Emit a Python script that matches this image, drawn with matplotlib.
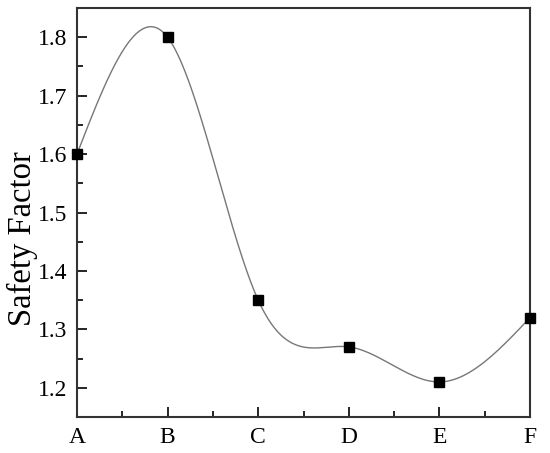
import numpy as np
import matplotlib
matplotlib.use("Agg")
import matplotlib.pyplot as plt
from matplotlib.ticker import AutoMinorLocator

# data
cats = ["A", "B", "C", "D", "E", "F"]
safety = [1.60, 1.80, 1.35, 1.27, 1.21, 1.32]


def natural_spline(x, y, xs):
    # plain natural cubic spline, like Origin's spline connector
    x = np.asarray(x, float)
    y = np.asarray(y, float)
    n = len(x)
    h = np.diff(x)
    A = np.zeros((n, n))
    b = np.zeros(n)
    A[0, 0] = 1
    A[-1, -1] = 1
    for i in range(1, n - 1):
        A[i, i - 1] = h[i - 1]
        A[i, i] = 2 * (h[i - 1] + h[i])
        A[i, i + 1] = h[i]
        b[i] = 3 * ((y[i + 1] - y[i]) / h[i] - (y[i] - y[i - 1]) / h[i - 1])
    c = np.linalg.solve(A, b)
    out = np.empty_like(xs)
    for k, t in enumerate(xs):
        i = min(np.searchsorted(x, t, side="right") - 1, n - 2)
        i = max(i, 0)
        bi = (y[i + 1] - y[i]) / h[i] - h[i] * (2 * c[i] + c[i + 1]) / 3
        di = (c[i + 1] - c[i]) / (3 * h[i])
        dx = t - x[i]
        out[k] = y[i] + bi * dx + c[i] * dx ** 2 + di * dx ** 3
    return out


plt.rcParams["font.family"] = ["Liberation Serif", "DejaVu Serif"]

xpos = np.arange(len(cats))
xs = np.linspace(0, len(cats) - 1, 400)

fig = plt.figure(figsize=(5.5, 4.53), dpi=100)
ax = fig.add_axes([77 / 550, 1 - 417 / 453, (530 - 77) / 550, (417 - 8) / 453])

ax.plot(xs, natural_spline(xpos, safety, xs), color="#777777", lw=1.0, zorder=2)
ax.plot(xpos, safety, "s", color="black", ms=6.5, clip_on=False, zorder=3)

ax.set_xlim(0, 5)
ax.set_ylim(1.15, 1.85)
ax.set_xticks(xpos)
ax.set_xticklabels(cats)
ax.set_yticks([1.2, 1.3, 1.4, 1.5, 1.6, 1.7, 1.8])
ax.xaxis.set_minor_locator(AutoMinorLocator(2))
ax.yaxis.set_minor_locator(AutoMinorLocator(2))
ax.tick_params(which="both", direction="in", top=False, right=False, labelsize=17, width=1.2)
ax.tick_params(which="major", length=7)
ax.tick_params(which="minor", length=4)
ax.tick_params(axis="x", pad=7)
ax.tick_params(axis="y", pad=7)
for s in ax.spines.values():
    s.set_linewidth(1.5)
    s.set_color("#333333")

ax.set_ylabel("Safety Factor", fontsize=23.5)
ax.yaxis.set_label_coords(-0.085, 0.437)

fig.savefig("out.png", dpi=100)
